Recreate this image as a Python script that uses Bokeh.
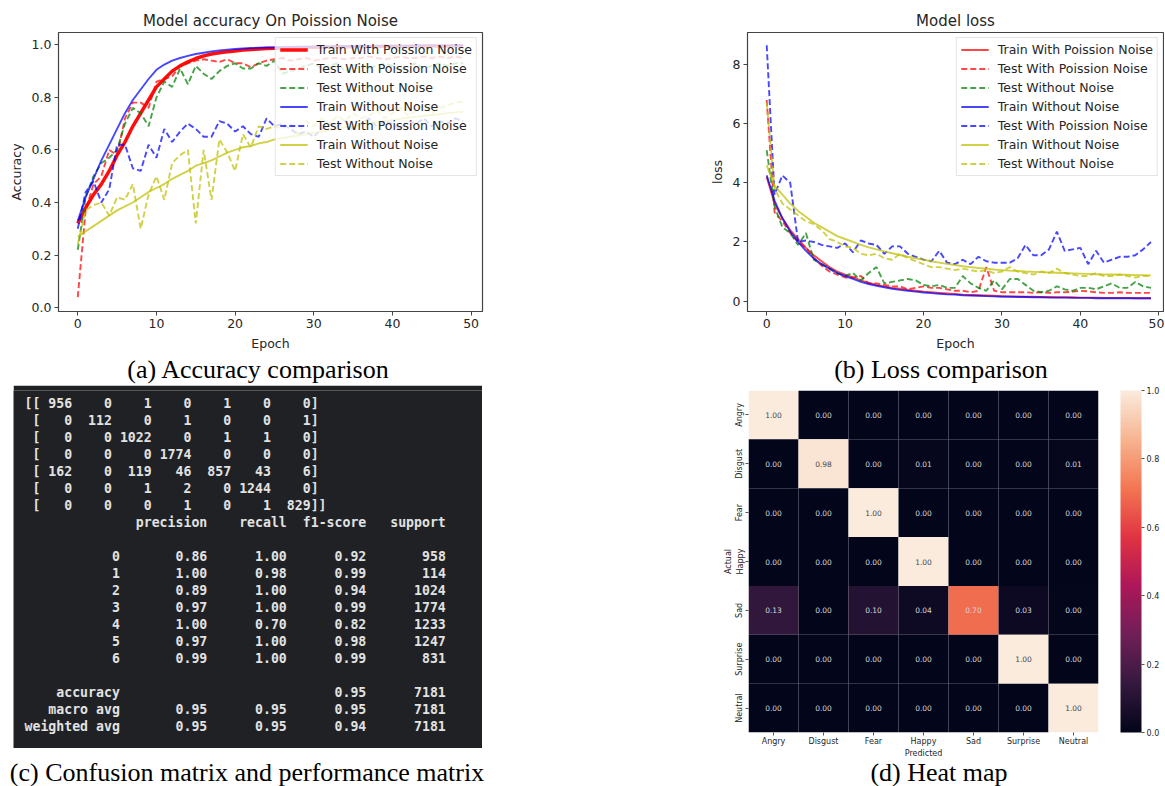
import re
from bokeh.plotting import figure
from bokeh.models import (Range1d, FactorRange, FixedTicker, PrintfTickFormatter, Legend, LegendItem,
                          ColumnDataSource, LinearColorMapper, ColorBar, Div, Spacer)
from bokeh.layouts import row, column
from bokeh.core.properties import value
from bokeh.embed import file_html
from bokeh.resources import INLINE

# ---------------- data ----------------
epochs = list(range(50))

acc_train_poisson = [0.32, 0.38, 0.43, 0.47, 0.52, 0.58, 0.63, 0.69, 0.74, 0.79,
                     0.84, 0.87, 0.90, 0.92, 0.935, 0.948, 0.958, 0.965, 0.97, 0.974,
                     0.977, 0.98, 0.982, 0.984, 0.986, 0.987, 0.988, 0.989, 0.99, 0.99,
                     0.991, 0.992, 0.992, 0.993, 0.993, 0.993, 0.994, 0.994, 0.994, 0.995,
                     0.995, 0.995, 0.995, 0.996, 0.996, 0.996, 0.996, 0.996, 0.997, 0.997]
acc_test_poisson = [0.04, 0.37, 0.47, 0.50, 0.60, 0.58, 0.72, 0.78, 0.78, 0.76,
                    0.86, 0.87, 0.88, 0.92, 0.93, 0.94, 0.945, 0.94, 0.935, 0.945,
                    0.93, 0.93, 0.915, 0.93, 0.94, 0.945, 0.95, 0.94, 0.945, 0.95,
                    0.94, 0.945, 0.95, 0.95, 0.945, 0.95, 0.95, 0.955, 0.95, 0.945,
                    0.95, 0.955, 0.95, 0.95, 0.955, 0.95, 0.955, 0.95, 0.955, 0.95]
acc_test_clean = [0.22, 0.42, 0.50, 0.55, 0.57, 0.60, 0.70, 0.76, 0.74, 0.69,
                  0.80, 0.86, 0.84, 0.91, 0.85, 0.92, 0.89, 0.87, 0.90, 0.92,
                  0.93, 0.91, 0.91, 0.93, 0.92, 0.94, 0.89, 0.90, 0.91, 0.92,
                  0.93, 0.91, 0.92, 0.93, 0.90, 0.92, 0.93, 0.91, 0.92, 0.93,
                  0.92, 0.90, 0.92, 0.93, 0.91, 0.92, 0.93, 0.92, 0.93, 0.93]
acc_train_clean = [0.33, 0.42, 0.49, 0.56, 0.62, 0.68, 0.74, 0.79, 0.83, 0.87,
                   0.905, 0.925, 0.94, 0.95, 0.958, 0.965, 0.97, 0.975, 0.979, 0.982,
                   0.984, 0.986, 0.988, 0.989, 0.99, 0.99, 0.991, 0.992, 0.992, 0.993,
                   0.993, 0.994, 0.994, 0.994, 0.995, 0.995, 0.995, 0.995, 0.996, 0.996,
                   0.996, 0.996, 0.996, 0.997, 0.997, 0.997, 0.997, 0.997, 0.998, 0.998]
acc_test_poisson_b = [0.30, 0.44, 0.48, 0.40, 0.45, 0.62, 0.62, 0.53, 0.52, 0.62,
                      0.57, 0.68, 0.63, 0.67, 0.70, 0.68, 0.65, 0.65, 0.71, 0.70,
                      0.67, 0.69, 0.66, 0.65, 0.72, 0.69, 0.70, 0.68, 0.66, 0.67,
                      0.65, 0.68, 0.70, 0.69, 0.71, 0.68, 0.70, 0.72, 0.69, 0.71,
                      0.70, 0.68, 0.71, 0.70, 0.72, 0.69, 0.71, 0.70, 0.72, 0.71]
acc_train_clean_b = [0.27, 0.29, 0.31, 0.33, 0.35, 0.37, 0.385, 0.40, 0.42, 0.44,
                     0.455, 0.47, 0.49, 0.505, 0.52, 0.54, 0.55, 0.56, 0.575, 0.59,
                     0.60, 0.61, 0.615, 0.625, 0.63, 0.64, 0.645, 0.65, 0.655, 0.66,
                     0.665, 0.67, 0.675, 0.68, 0.686, 0.69, 0.695, 0.70, 0.705, 0.71,
                     0.714, 0.718, 0.722, 0.726, 0.73, 0.733, 0.736, 0.74, 0.743, 0.745]
acc_test_clean_b = [0.24, 0.37, 0.39, 0.40, 0.35, 0.42, 0.41, 0.47, 0.30, 0.43,
                    0.50, 0.41, 0.55, 0.58, 0.60, 0.32, 0.60, 0.41, 0.64, 0.59,
                    0.52, 0.66, 0.61, 0.69, 0.68, 0.69, 0.68, 0.70, 0.66, 0.71,
                    0.69, 0.72, 0.70, 0.73, 0.71, 0.74, 0.72, 0.73, 0.75, 0.72,
                    0.74, 0.76, 0.73, 0.75, 0.77, 0.74, 0.76, 0.77, 0.78, 0.785]

loss_train_poisson = [4.2, 3.3, 2.8, 2.4, 2.1, 1.8, 1.55, 1.35, 1.15, 1.0,
                      0.9, 0.8, 0.7, 0.62, 0.55, 0.5, 0.45, 0.42, 0.38, 0.35,
                      0.32, 0.3, 0.28, 0.26, 0.24, 0.22, 0.21, 0.2, 0.19, 0.18,
                      0.17, 0.16, 0.16, 0.15, 0.15, 0.14, 0.14, 0.13, 0.13, 0.13,
                      0.12, 0.12, 0.12, 0.11, 0.11, 0.11, 0.11, 0.1, 0.1, 0.1]
loss_test_poisson = [6.8, 3.0, 2.7, 2.3, 2.0, 1.8, 1.45, 1.2, 1.0, 0.9,
                     0.8, 0.8, 0.85, 0.6, 0.6, 0.55, 0.5, 0.5, 0.4, 0.45,
                     0.5, 0.45, 0.45, 0.4, 0.35, 0.35, 0.3, 0.35, 1.15, 0.35,
                     0.3, 0.3, 0.3, 0.3, 0.28, 0.3, 0.28, 0.3, 0.3, 0.32,
                     0.35, 0.33, 0.3, 0.28, 0.28, 0.3, 0.28, 0.28, 0.28, 0.28]
loss_test_clean = [5.1, 3.2, 2.5, 2.3, 1.9, 2.3, 1.4, 1.25, 1.1, 0.95,
                   0.85, 0.95, 0.7, 0.95, 1.15, 0.6, 0.65, 0.7, 0.75, 0.7,
                   0.55, 0.5, 0.55, 0.45, 0.45, 0.85, 0.6, 0.45, 0.35, 0.7,
                   0.4, 0.75, 0.75, 0.55, 0.35, 0.3, 0.35, 0.5, 0.4, 0.35,
                   0.45, 0.45, 0.4, 0.5, 0.6, 0.45, 0.45, 0.65, 0.5, 0.45]
loss_train_clean = [4.25, 3.4, 2.8, 2.35, 2.0, 1.7, 1.45, 1.25, 1.1, 0.95,
                    0.85, 0.75, 0.65, 0.58, 0.52, 0.47, 0.42, 0.38, 0.35, 0.32,
                    0.29, 0.27, 0.25, 0.23, 0.22, 0.2, 0.19, 0.18, 0.17, 0.16,
                    0.15, 0.15, 0.14, 0.14, 0.13, 0.13, 0.12, 0.12, 0.12, 0.11,
                    0.11, 0.11, 0.1, 0.1, 0.1, 0.1, 0.1, 0.1, 0.1, 0.1]
loss_test_poisson_b = [8.65, 3.6, 4.25, 4.0, 2.0, 2.05, 2.0, 1.9, 1.85, 1.8,
                       1.95, 1.65, 2.05, 1.95, 1.9, 1.6, 1.85, 1.85, 1.6, 1.5,
                       1.4, 1.35, 1.7, 1.3, 1.25, 1.4, 1.25, 1.5, 1.35, 1.3,
                       1.3, 1.3, 1.45, 1.9, 1.55, 1.55, 1.75, 2.35, 1.7, 1.75,
                       1.8, 1.25, 1.7, 1.3, 1.4, 1.5, 1.5, 1.55, 1.75, 2.0]
loss_train_clean_b = [4.6, 3.9, 3.6, 3.3, 3.05, 2.85, 2.65, 2.5, 2.35, 2.2,
                      2.1, 2.0, 1.9, 1.82, 1.75, 1.68, 1.62, 1.56, 1.5, 1.45,
                      1.4, 1.35, 1.3, 1.26, 1.22, 1.18, 1.15, 1.12, 1.1, 1.07,
                      1.05, 1.03, 1.02, 1.0, 0.99, 0.98, 0.97, 0.96, 0.95, 0.94,
                      0.93, 0.92, 0.91, 0.9, 0.9, 0.89, 0.89, 0.88, 0.88, 0.87]
loss_test_clean_b = [6.7, 3.8, 3.3, 3.1, 2.9, 2.7, 2.6, 2.4, 2.1, 2.0,
                     1.85, 1.8, 1.6, 1.55, 1.6, 1.45, 1.4, 1.6, 1.45, 1.35,
                     1.25, 1.15, 1.15, 1.1, 1.05, 1.1, 1.05, 1.0, 1.05, 0.95,
                     1.0, 1.15, 1.0, 0.95, 0.9, 1.0, 0.95, 1.1, 0.95, 0.9,
                     0.85, 0.85, 0.95, 0.85, 0.85, 0.9, 0.85, 0.8, 0.85, 0.85]

series_labels = ["Train With Poission Noise", "Test With Poission Noise", "Test Without Noise",
                 "Train Without Noise", "Test With Poission Noise", "Train Without Noise",
                 "Test Without Noise"]

emotions = ["Angry", "Disgust", "Fear", "Happy", "Sad", "Surprise", "Neutral"]
conf_matrix = [[956, 0, 1, 0, 1, 0, 0],
               [0, 112, 0, 1, 0, 0, 1],
               [0, 0, 1022, 0, 1, 1, 0],
               [0, 0, 0, 1774, 0, 0, 0],
               [162, 0, 119, 46, 857, 43, 6],
               [0, 0, 1, 2, 0, 1244, 0],
               [0, 0, 0, 1, 0, 1, 829]]
class_ids = ["0", "1", "2", "3", "4", "5", "6"]
precision = [0.86, 1.00, 0.89, 0.97, 1.00, 0.97, 0.99]
recall = [1.00, 0.98, 1.00, 1.00, 0.70, 1.00, 1.00]
f1_score = [0.92, 0.99, 0.94, 0.99, 0.82, 0.98, 0.99]
support = [958, 114, 1024, 1774, 1233, 1247, 831]
accuracy = 0.95
total_support = 7181
macro_avg = [0.95, 0.95, 0.95]
weighted_avg = [0.95, 0.95, 0.94]

# ---------------- styling helpers ----------------
TXT = "#262626"
FONT = "DejaVu Sans"
RED, GREEN, BLUE, YEL = "#ff0000", "#008000", "#0000ff", "#bfbf00"


def style_mpl(p, xlabel, ylabel, yticks, yfmt):
    p.grid.visible = False
    p.outline_line_color = "#444444"
    p.outline_line_width = 1.2
    p.xaxis.ticker = FixedTicker(ticks=[0, 10, 20, 30, 40, 50])
    p.yaxis.ticker = FixedTicker(ticks=yticks)
    p.yaxis.formatter = PrintfTickFormatter(format=yfmt)
    p.xaxis.axis_label = xlabel
    p.yaxis.axis_label = ylabel
    for ax in (p.xaxis[0], p.yaxis[0]):
        ax.axis_line_color = "#444444"
        ax.major_tick_line_color = "#444444"
        ax.major_tick_in = 0
        ax.major_tick_out = 4
        ax.minor_tick_line_color = None
        ax.major_label_standoff = 3
        ax.major_label_text_font = FONT
        ax.major_label_text_font_size = "12.5px"
        ax.major_label_text_color = TXT
        ax.axis_label_text_font = FONT
        ax.axis_label_text_font_size = "12.5px"
        ax.axis_label_text_font_style = "normal"
        ax.axis_label_text_color = TXT
        ax.axis_label_standoff = 5
    p.title.text_font = FONT
    p.title.text_font_size = "15px"
    p.title.text_font_style = "normal"
    p.title.text_color = TXT
    p.title.align = "center"
    p.title.standoff = 5


def add_series(p, ys_list, thick_first):
    specs = [(RED, "solid"), (RED, "6 3"), (GREEN, "6 3"), (BLUE, "solid"),
             (BLUE, "6 3"), (YEL, "solid"), (YEL, "6 3")]
    items = []
    for k, (ys, (col, dash), lab) in enumerate(zip(ys_list, specs, series_labels)):
        w = 3.5 if (k == 0 and thick_first) else 1.9
        a = 0.95 if (k == 0 and thick_first) else 0.72
        r = p.line(epochs, ys, line_color=col, line_width=w, line_dash=dash, line_alpha=a)
        items.append(LegendItem(label=lab, renderers=[r]))
    lg = Legend(items=items, location="top_right")
    lg.label_text_font = FONT
    lg.label_text_font_size = "12.5px"
    lg.label_text_color = TXT
    lg.glyph_width = 28
    lg.glyph_height = 15
    lg.label_height = 15
    lg.label_standoff = 9
    lg.spacing = 4
    lg.padding = 4
    lg.margin = 5
    lg.border_line_color = "#cccccc"
    lg.border_line_width = 1
    lg.background_fill_alpha = 0.8
    p.add_layout(lg)


# ---------------- (a) accuracy ----------------
pa = figure(width=490, height=355, min_border_left=58, min_border_right=8,
            min_border_top=32, min_border_bottom=44,
            x_range=Range1d(-2.45, 51.45), y_range=Range1d(-0.015, 1.047),
            title="Model accuracy On Poission Noise",
            output_backend="svg", toolbar_location=None)
style_mpl(pa, "Epoch", "Accuracy", [0, 0.2, 0.4, 0.6, 0.8, 1.0], "%.1f")
add_series(pa, [acc_train_poisson, acc_test_poisson, acc_test_clean, acc_train_clean,
                acc_test_poisson_b, acc_train_clean_b, acc_test_clean_b], True)

# ---------------- (b) loss ----------------
pb = figure(width=464, height=355, min_border_left=47, min_border_right=1,
            min_border_top=32, min_border_bottom=44,
            x_range=Range1d(-2.45, 50.6), y_range=Range1d(-0.35, 9.08),
            title="Model loss",
            output_backend="svg", toolbar_location=None)
style_mpl(pb, "Epoch", "loss", [0, 2, 4, 6, 8], "%d")
add_series(pb, [loss_train_poisson, loss_test_poisson, loss_test_clean, loss_train_clean,
                loss_test_poisson_b, loss_train_clean_b, loss_test_clean_b], False)

# ---------------- (c) text report ----------------
lines = []
for i, r in enumerate(conf_matrix):
    pre = "[[" if i == 0 else " ["
    suf = "]]" if i == len(conf_matrix) - 1 else "]"
    lines.append(pre + " ".join(f"{v:4d}" for v in r) + suf)
W = 12
lines.append(f"{'':>{W}s} " + "".join(f" {h:>9}" for h in ["precision", "recall", "f1-score", "support"]))
lines.append("")
for cid, pr, rc, f, s in zip(class_ids, precision, recall, f1_score, support):
    lines.append(f"{cid:>{W}s} " + f" {pr:>9.2f}" + f" {rc:>9.2f}" + f" {f:>9.2f}" + f" {s:>9}")
lines.append("")
lines.append(f"{'accuracy':>{W}s} " + f" {'':>9}" * 2 + f" {accuracy:>9.2f}" + f" {total_support:>9}")
lines.append(f"{'macro avg':>{W}s} " + "".join(f" {v:>9.2f}" for v in macro_avg) + f" {total_support:>9}")
lines.append(f"{'weighted avg':>{W}s} " + "".join(f" {v:>9.2f}" for v in weighted_avg) + f" {total_support:>9}")

tok_x, tok_y, tok_t = [], [], []
for li, ln in enumerate(lines):
    for m in re.finditer(r"\S+", ln):
        tok_x.append(m.start())
        tok_y.append(li)
        tok_t.append(m.group())

CW, LH = 7.95, 17.0
C_W, C_H, TOP = 469, 363, 12.7
pc = figure(frame_width=C_W, frame_height=C_H,
            min_border_left=0, min_border_right=0, min_border_top=0, min_border_bottom=0,
            x_axis_location=None, y_axis_location=None,
            x_range=Range1d(-11 / CW, (C_W - 11) / CW),
            y_range=Range1d(-TOP / LH + C_H / LH, -TOP / LH),
            output_backend="svg", toolbar_location=None)
pc.grid.visible = False
pc.outline_line_color = None
pc.background_fill_color = "#202124"
pc.border_fill_color = "#202124"
pc.text(x=tok_x, y=tok_y, text=tok_t, text_font=value("DejaVu Sans Mono"),
        text_font_size=value("13.2px"), text_font_style="bold", text_color="#e2e2e2",
        text_align="left", text_baseline="middle")

# ---------------- (d) heat map ----------------
anchors = [(0.0, (0x03, 0x05, 0x1a)), (1 / 7, (0x35, 0x19, 0x3e)), (2 / 7, (0x70, 0x1f, 0x57)),
           (3 / 7, (0xad, 0x17, 0x59)), (4 / 7, (0xe1, 0x33, 0x42)), (5 / 7, (0xf3, 0x76, 0x51)),
           (6 / 7, (0xf6, 0xb4, 0x8f)), (1.0, (0xfa, 0xeb, 0xdd))]
rocket = []
for k in range(256):
    t = k / 255
    for (t0, c0), (t1, c1) in zip(anchors[:-1], anchors[1:]):
        if t0 <= t <= t1:
            f = (t - t0) / (t1 - t0)
            c = tuple(int(round(a + (b - a) * f)) for a, b in zip(c0, c1))
            rocket.append("#%02x%02x%02x" % c)
            break

hx, hy, hv, ht, hc = [], [], [], [], []
for i, r in enumerate(conf_matrix):
    tot = sum(r)
    for j, v in enumerate(r):
        nv = v / tot
        hx.append(emotions[j])
        hy.append(emotions[i])
        hv.append(nv)
        ht.append(f"{nv:.2f}")
        hc.append("#4a4a4a" if nv > 0.8 else "#d6d6d6")
hsrc = ColumnDataSource(dict(x=hx, y=hy, v=hv, t=ht, c=hc))
mapper = LinearColorMapper(palette=rocket, low=0, high=1)

pd_ = figure(width=447, height=375, min_border_left=30, min_border_top=5,
             min_border_bottom=28, min_border_right=67,
             x_range=FactorRange(*emotions), y_range=FactorRange(*reversed(emotions)),
             output_backend="svg", toolbar_location=None)
pd_.rect(x="x", y="y", width=1, height=1, source=hsrc,
         fill_color={"field": "v", "transform": mapper}, line_color=None)
pd_.text(x="x", y="y", text="t", source=hsrc, text_color="c", text_align="center",
         text_baseline="middle", text_font=value(FONT), text_font_size=value("7.5px"))
pd_.grid.visible = False
pd_.outline_line_color = None
pd_.xaxis.axis_label = "Predicted"
pd_.yaxis.axis_label = "Actual"
pd_.yaxis.major_label_orientation = "vertical"
for ax in (pd_.xaxis[0], pd_.yaxis[0]):
    ax.axis_line_color = None
    ax.major_tick_line_color = "#555555"
    ax.major_tick_in = 0
    ax.major_tick_out = 3
    ax.major_label_standoff = 1
    ax.major_label_text_font = FONT
    ax.major_label_text_font_size = "8px"
    ax.major_label_text_color = TXT
    ax.axis_label_text_font = FONT
    ax.axis_label_text_font_size = "8px"
    ax.axis_label_text_font_style = "normal"
    ax.axis_label_text_color = TXT
    ax.axis_label_standoff = 0

cb = ColorBar(color_mapper=mapper, ticker=FixedTicker(ticks=[0, 0.2, 0.4, 0.6, 0.8, 1.0]),
              formatter=PrintfTickFormatter(format="%.1f"), width=21, margin=0, padding=0,
              location=(22, 0),
              major_tick_out=3, major_tick_in=0, major_tick_line_color="#555555",
              major_label_text_font=FONT, major_label_text_font_size="8px",
              major_label_text_color=TXT, label_standoff=2, bar_line_color=None)
pd_.add_layout(cb, "right")


# ---------------- captions ----------------
def caption(text, width, height):
    return Div(text=text, width=width, height=height, margin=0,
               styles={"font-family": "Liberation Serif", "font-size": "26px",
                       "text-align": "center", "line-height": f"{height}px",
                       "white-space": "nowrap", "color": "#000000"})


layout = column(
    row(pa, Spacer(width=210, height=1, margin=0), pb),
    row(caption("(a) Accuracy comparison", 516, 30), Spacer(width=202, height=1, margin=0),
        caption("(b) Loss comparison", 446, 30)),
    row(Spacer(width=13, height=1, margin=0), pc, Spacer(width=236, height=1, margin=0), pd_),
    row(caption("(c) Confusion matrix and performance matrix", 494, 25),
        Spacer(width=224, height=1, margin=0),
        caption("(d) Heat map", 442, 25)),
)

open("out.html", "w").write(file_html(layout, INLINE))
